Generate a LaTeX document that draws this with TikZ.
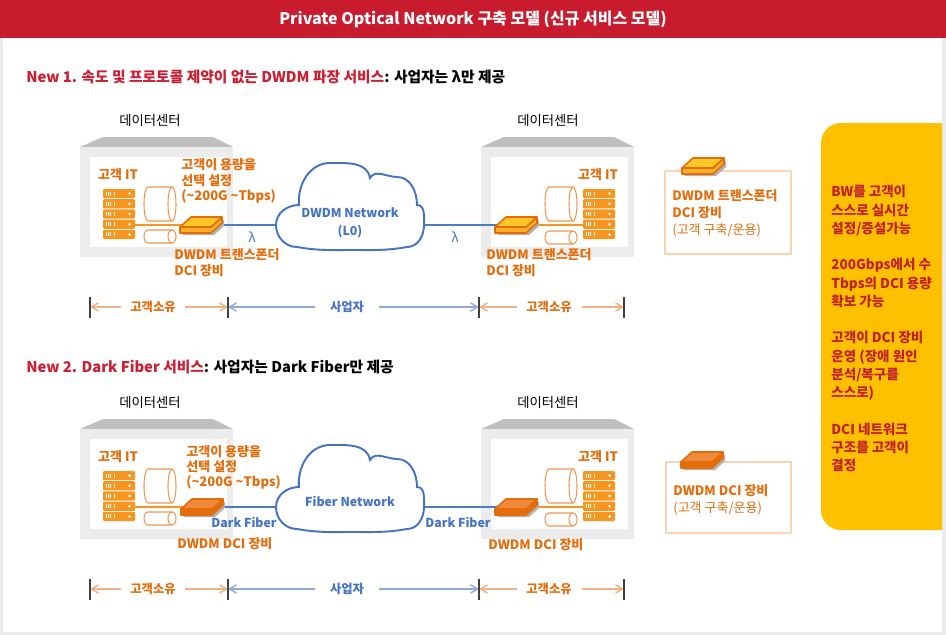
\documentclass[tikz,border=0pt]{standalone}
\usepackage{fontspec}
\setmainfont{Noto Sans CJK KR}
\usepackage{tikz}
\usetikzlibrary{arrows,positioning,calc}

\definecolor{hdrred}{RGB}{200,27,45}
\definecolor{ttlred}{RGB}{204,30,50}
\definecolor{orangetxt}{RGB}{228,108,10}
\definecolor{rackorange}{RGB}{247,150,30}
\definecolor{cylorange}{RGB}{240,150,80}
\definecolor{netblue}{RGB}{68,114,196}
\definecolor{lineblue}{RGB}{74,124,200}
\definecolor{dimblue}{RGB}{143,170,220}
\definecolor{dimorange}{RGB}{244,177,131}
\definecolor{bldgrey}{RGB}{236,236,236}
\definecolor{roofgrey}{RGB}{191,191,191}
\definecolor{framegrey}{RGB}{235,235,235}
\definecolor{panelyellow}{RGB}{255,192,0}
\definecolor{paneltxt}{RGB}{192,32,40}
\definecolor{legendline}{RGB}{250,210,180}
\definecolor{xpyellow}{RGB}{255,200,40}
\definecolor{xpfronty}{RGB}{250,175,40}
\definecolor{xporange}{RGB}{238,138,58}
\definecolor{xpfronto}{RGB}{228,108,10}
\definecolor{xpedge}{RGB}{228,108,10}

\tikzset{
pics/bldg/.style={code={
\fill[roofgrey] (0,0) -- (23,10) -- (133,10) -- (153,0) -- cycle;
\fill[bldgrey] (0,0) rectangle (153,-110);
\fill[white] (10,-10) rectangle (147,-100);
}},
pics/rack/.style={code={
\foreach \i in {0,...,4}{
\fill[rackorange, rounded corners=0.6pt] (0,-10.2*\i) rectangle ++(32,-9.2);
\foreach \b in {3.5,5.5,7.5,11.5}
\draw[white, line width=0.5pt] (\b,-10.2*\i-2.6) -- ++(0,-4);
\fill[white] (26.5,-10.2*\i-4.6) circle (1.4);
}
}},
pics/cyl/.style={code={
\draw[cylorange, line width=0.6pt, fill=white] (4,0) -- (28,0)
 arc[start angle=90, end angle=-90, x radius=4, y radius=#1/2] -- (4,-#1)
 arc[start angle=270, end angle=90, x radius=4, y radius=#1/2] -- cycle;
\draw[cylorange, line width=0.6pt] (28,0) arc[start angle=90, end angle=270, x radius=4, y radius=#1/2];
}},
pics/xpdr/.style 2 args={code={
\fill[black!30] (3,-13) -- (34,-13) -- (44,-4) -- (44,-10) -- (34,-19) -- (3,-19) -- cycle;
\filldraw[draw=xpedge, fill=#2, line width=0.9pt, line join=round] (0,-11) -- (31,-11) -- (42,-1) -- (42,-7) -- (31,-17) -- (0,-17) -- cycle;
\filldraw[draw=xpedge, fill=#1, line width=0.9pt, line join=round] (0,-11) -- (31,-11) -- (42,-1) -- (11,-1) -- cycle;
}},
pics/cloud/.style={code={
\draw[netblue, line width=1.1pt, fill=white] (-53,-41) to[out=180,in=270] (-74,-19)
 to[out=90,in=180] (-51,1) to[out=95,in=180] (-20,43) to[out=0,in=100] (20,28)
 to[out=60,in=180] (47,29) to[out=0,in=90] (67,1) to[out=0,in=90] (74,-19)
 to[out=270,in=0] (57,-41) to[out=190,in=0] (3,-44) to[out=180,in=-10] (-53,-41) -- cycle;
}}
}

\begin{document}
\begin{tikzpicture}
[x=0.02cm, y=0.02cm,
every node/.style={inner sep=0pt},
hdr/.style={fill=hdrred, text=white, minimum width=18.92cm, minimum height=0.76cm, font=\bfseries\fontsize{9.1}{11}\selectfont},
ttl/.style={anchor=west, font=\bfseries\fontsize{8.4}{10}\selectfont},
dclabel/.style={font=\fontsize{7.6}{9}\selectfont},
otxt/.style={text=orangetxt, align=left, font=\bfseries\fontsize{7.4}{10}\selectfont},
btxt/.style={text=netblue, align=center, font=\bfseries\fontsize{7}{10}\selectfont},
lam/.style={text=netblue, font=\fontsize{7.5}{9}\selectfont},
bline/.style={draw=lineblue, line width=1.1pt},
oline/.style={draw=rackorange, line width=0.9pt},
tick/.style={draw=black!75, line width=1.1pt},
dimo/.style={draw=dimorange, line width=0.8pt, <->, >=angle 60},
dimb/.style={draw=dimblue, line width=0.8pt, <->, >=angle 60},
dimlbl/.style={fill=white, minimum width=1.3cm, minimum height=0.3cm, font=\bfseries\fontsize{7}{9}\selectfont},
legbox/.style={draw=legendline, line width=0.8pt, fill=white},
paneltext/.style={text=paneltxt, align=left, font=\bfseries\fontsize{7.7}{10.4}\selectfont}]
\useasboundingbox (0,0) rectangle (946,-635);

% frame and header
\fill[framegrey] (0,0) rectangle (946,-635);
\fill[white] (3,-38) rectangle (942,-632);
\node[hdr] (hdr) at (473,-19) {Private Optical Network 구축 모델 (신규 서비스 모델)};

\node[ttl] (ttlA) at (26,-77) {{\color{ttlred}New 1. 속도 및 프로토콜 제약이 없는 DWDM 파장 서비스}: 사업자는 λ만 제공};
\node[ttl] (ttlB) at (26,-367) {{\color{ttlred}New 2. Dark Fiber 서비스}: 사업자는 Dark Fiber만 제공};

% section 1
\node[dclabel] (dcA) at (150,-121) {데이터센터};
\node[dclabel] (dcB) at (548,-121) {데이터센터};
\pic at (80,-147) {bldg};
\pic at (481,-147) {bldg};
\node[otxt] (itA) at (118,-175) {고객 IT};
\node[otxt] (itB) at (598,-175) {고객 IT};
\pic at (103,-189) {rack};
\pic at (583,-189) {rack};
\pic at (144,-187) {cyl=34};
\pic at (144,-230) {cyl=13};
\pic at (545,-187) {cyl=34};
\pic at (545,-231) {cyl=13};

\coordinate (rkAe) at (135,-225);
\coordinate (xpAw) at (182,-225);
\coordinate (xpAe) at (220,-225);
\coordinate (cldAw) at (276,-225);
\coordinate (cldAe) at (424,-225);
\coordinate (xpBw) at (497,-225);
\coordinate (xpBe) at (535,-225);
\coordinate (rkBw) at (583,-225);
\draw[oline] (rkAe) -- (xpAw);
\draw[bline] (xpAe) -- (cldAw);
\draw[bline] (cldAe) -- (xpBw);
\draw[oline] (xpBe) -- (rkBw);
\pic at (180,-216) {xpdr={xpyellow}{xpfronty}};
\pic at (495,-216) {xpdr={xpyellow}{xpfronty}};
\pic at (350,-206) {cloud};
\node[btxt] (netA) at (350,-223) {DWDM Network\\(L0)};
\node[lam] (lamA) at (252,-237) {λ};
\node[lam] (lamB) at (455,-237) {λ};

\node[otxt, anchor=north west] (selA) at (181,-158) {고객이 용량을\\[-1pt]선택 설정\\[-1pt](\textasciitilde 200G \textasciitilde Tbps)};
\node[otxt, anchor=north west] (xplA) at (174,-248.5) {DWDM 트랜스폰더\\[-1pt]DCI 장비};
\node[otxt, anchor=north west] (xplB) at (486,-248.5) {DWDM 트랜스폰더\\[-1pt]DCI 장비};

\draw[legbox] (665,-171) rectangle (791,-254);
\pic at (682,-157) {xpdr={xpyellow}{xpfronty}};
\node[otxt, anchor=north west] (legA) at (672,-189.5) {DWDM 트랜스폰더\\[-0.4pt]DCI 장비\\[-0.4pt]\mdseries(고객 구축/운용)};

% section 2
\node[dclabel] (dcC) at (150,-403) {데이터센터};
\node[dclabel] (dcD) at (548,-403) {데이터센터};
\pic at (80,-429) {bldg};
\pic at (481,-429) {bldg};
\node[otxt] (itC) at (118,-457) {고객 IT};
\node[otxt] (itD) at (598,-457) {고객 IT};
\pic at (103,-471) {rack};
\pic at (583,-471) {rack};
\pic at (144,-469) {cyl=34};
\pic at (144,-512) {cyl=13};
\pic at (545,-469) {cyl=34};
\pic at (545,-513) {cyl=13};

\coordinate (rkCe) at (135,-507);
\coordinate (xpCw) at (183,-507);
\coordinate (xpCe) at (221,-507);
\coordinate (cldCw) at (276,-507);
\coordinate (cldCe) at (424,-507);
\coordinate (xpDw) at (497,-507);
\coordinate (xpDe) at (535,-507);
\coordinate (rkDw) at (583,-507);
\draw[oline] (rkCe) -- (xpCw);
\draw[bline] (xpCe) -- (cldCw);
\draw[bline] (cldCe) -- (xpDw);
\draw[oline] (xpDe) -- (rkDw);
\pic at (181,-498) {xpdr={xporange}{xpfronto}};
\pic at (495,-498) {xpdr={xporange}{xpfronto}};
\pic at (350,-488) {cloud};
\node[btxt] (netB) at (350,-501) {Fiber Network};
\node[btxt] (dfA) at (244,-522) {Dark Fiber};
\node[btxt] (dfB) at (458,-522) {Dark Fiber};

\node[otxt, anchor=north west] (selC) at (186,-445) {고객이 용량을\\[-1.5pt]선택 설정\\[-1.5pt](\textasciitilde 200G \textasciitilde Tbps)};
\node[otxt, anchor=west] (xplC) at (177,-544) {DWDM DCI 장비};
\node[otxt, anchor=west] (xplD) at (488,-545) {DWDM DCI 장비};

\draw[legbox] (666,-462) rectangle (791,-533);
\pic at (681,-451) {xpdr={xporange}{xpfronto}};
\node[otxt, anchor=west] (legB) at (673,-491) {DWDM DCI 장비};
\node[otxt, anchor=west] (legC) at (673,-508) {\mdseries(고객 구축/운용)};

% side panel
\fill[panelyellow] (942,-123) -- (841,-123) arc[start angle=90, end angle=180, radius=20]
 -- (821,-510) arc[start angle=180, end angle=270, radius=20] -- (942,-530) -- cycle;
\node[paneltext, anchor=north west] (pnl) at (831,-185) {BW를 고객이\\스스로 실시간\\설정/증설가능\\[10.4pt]200Gbps에서 수\\Tbps의 DCI 용량\\확보 가능\\[10.4pt]고객이 DCI 장비\\운영 (장애 원인\\분석/복구를\\스스로)\\[10.4pt]DCI 네트워크\\구조를 고객이\\결정};

% ownership rows
\coordinate (dA1) at (90,-307);
\coordinate (dA2) at (228,-307);
\coordinate (dA3) at (479,-307);
\coordinate (dA4) at (624,-307);
\draw[dimo] (dA1) -- (dA2);
\draw[dimb] (dA2) -- (dA3);
\draw[dimo] (dA3) -- (dA4);
\draw[tick] (dA1) ++(0,10) -- ++(0,-21);
\draw[tick] (dA2) ++(0,10) -- ++(0,-21);
\draw[tick] (dA3) ++(0,10) -- ++(0,-21);
\draw[tick] (dA4) ++(0,10) -- ++(0,-21);
\node[dimlbl, text=orangetxt] (owA) at (153,-307) {고객소유};
\node[dimlbl, text=netblue] (opA) at (347,-307) {사업자};
\node[dimlbl, text=orangetxt] (owB) at (549,-307) {고객소유};

\coordinate (dB1) at (90,-589);
\coordinate (dB2) at (228,-589);
\coordinate (dB3) at (479,-589);
\coordinate (dB4) at (624,-589);
\draw[dimo] (dB1) -- (dB2);
\draw[dimb] (dB2) -- (dB3);
\draw[dimo] (dB3) -- (dB4);
\draw[tick] (dB1) ++(0,10) -- ++(0,-21);
\draw[tick] (dB2) ++(0,10) -- ++(0,-21);
\draw[tick] (dB3) ++(0,10) -- ++(0,-21);
\draw[tick] (dB4) ++(0,10) -- ++(0,-21);
\node[dimlbl, text=orangetxt] (owC) at (153,-589) {고객소유};
\node[dimlbl, text=netblue] (opB) at (347,-589) {사업자};
\node[dimlbl, text=orangetxt] (owD) at (549,-589) {고객소유};
\end{tikzpicture}
\end{document}
